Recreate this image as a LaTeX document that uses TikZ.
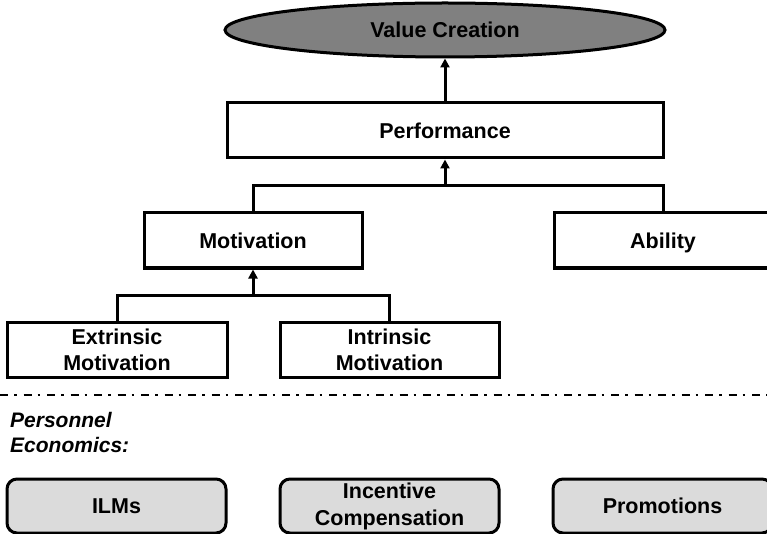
\documentclass[tikz,border=0pt]{standalone}
\usepackage{fontspec}
\setmainfont{Liberation Sans}
\usetikzlibrary{arrows.meta,positioning,calc,shapes.geometric}

\begin{document}
\begin{tikzpicture}[
    x=1pt, y=-1pt,
    box/.style={draw, line width=3pt, fill=white, minimum height=55pt, inner sep=2pt, align=center, font=\bfseries\fontsize{21.5}{26}\selectfont},
    pebox/.style={box, rounded corners=10pt, fill=black!14, minimum height=54pt, font=\bfseries\fontsize{21.5}{27}\selectfont},
    wire/.style={line width=3pt},
    arrow/.style={wire, -{Triangle[length=9pt,width=9pt]}},
    sep/.style={line width=2.6pt, dash pattern=on 8pt off 6pt on 2.5pt off 7pt}
  ]
  \useasboundingbox (0,0) rectangle (767,534);

  \node[box, ellipse, fill=black!50, inner sep=0pt, minimum width=440pt, minimum height=54pt] (value) at (445,30) {Value Creation};
  \node[box, minimum width=436pt] (perf) at (445,130.5) {Performance};
  \node[box, minimum width=218pt] (motiv) at (253,240.5) {Motivation};
  \node[box, minimum width=218pt, text depth=0pt] (abil) at (663,240.5) {Ability};
  \node[box, minimum width=220pt] (extr) at (117,349.5) {Extrinsic\\Motivation};
  \node[box, minimum width=219pt] (intr) at (389.5,349.5) {Intrinsic\\Motivation};

  \coordinate (top join) at (perf.south |- 0,186);
  \coordinate (low join) at (motiv.south |- 0,295);

  \draw[arrow] (perf.north) -- (value.south);
  \draw[wire] (motiv.north) |- (top join) -| (abil.north);
  \draw[arrow] (top join) -- (perf.south);
  \draw[wire] (extr.north) |- (low join) -| (intr.north);
  \draw[arrow] (low join) -- (motiv.south);

  % separator
  \coordinate (sep west) at (0,395);
  \coordinate (sep east) at (767,395);
  \draw[sep] (sep west) -- (sep east);

  \node[anchor=north west, inner sep=0pt, align=left, font=\bfseries\itshape\fontsize{21}{25}\selectfont] (pe) at (10,412) {Personnel\\Economics:};

  \node[pebox, minimum width=219pt] (ilm) at (116.5,506) {ILMs};
  \node[pebox, minimum width=219pt] (inc) at (389.5,506) {Incentive\\Compensation};
  \node[pebox, minimum width=219pt] (promo) at (662.5,506) {Promotions};
\end{tikzpicture}
\end{document}
